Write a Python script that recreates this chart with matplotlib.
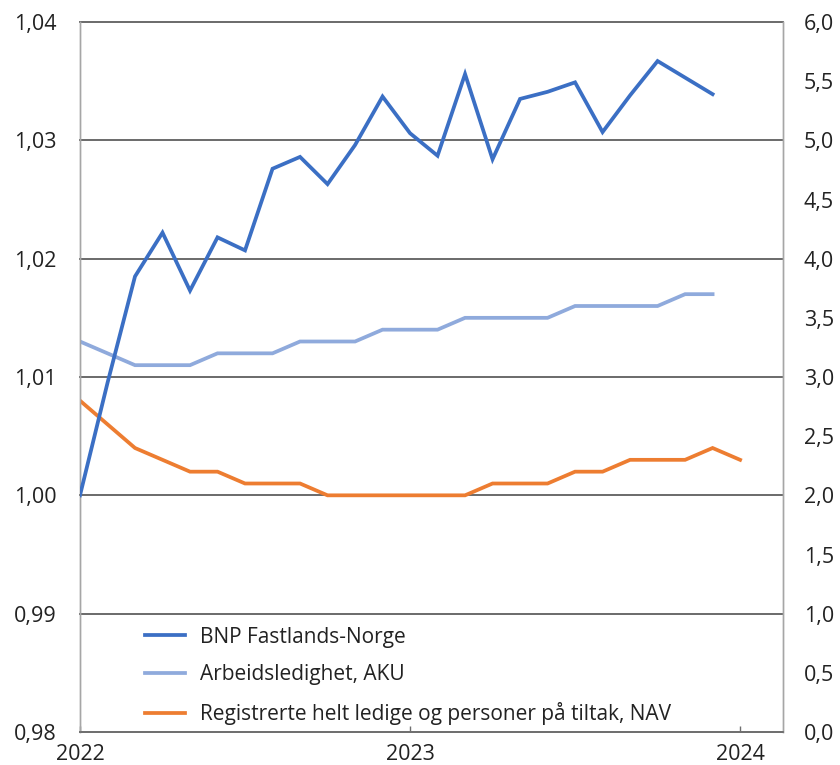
import matplotlib
matplotlib.use("Agg")
import matplotlib.pyplot as plt
import numpy as np

plt.rcParams['font.family'] = ['Open Sans', 'DejaVu Sans']

# Data (monthly, Jan 2022 = 0)
bnp = [1.000, 1.0095, 1.0185, 1.0222, 1.0173, 1.0218, 1.0207, 1.0276, 1.0286, 1.0263,
       1.0296, 1.0337, 1.0306, 1.0287, 1.0356, 1.0284, 1.0335, 1.0341, 1.0349, 1.0307,
       1.0338, 1.0367, 1.0353, 1.0339]
aku = [3.3, 3.2, 3.1, 3.1, 3.1, 3.2, 3.2, 3.2, 3.3, 3.3, 3.3, 3.4, 3.4, 3.4, 3.5, 3.5,
       3.5, 3.5, 3.6, 3.6, 3.6, 3.6, 3.7, 3.7]
nav = [2.8, 2.6, 2.4, 2.3, 2.2, 2.2, 2.1, 2.1, 2.1, 2.0, 2.0, 2.0, 2.0, 2.0, 2.0, 2.1,
       2.1, 2.1, 2.2, 2.2, 2.3, 2.3, 2.3, 2.4, 2.3]
labels = ["BNP Fastlands-Norge", "Arbeidsledighet, AKU",
          "Registrerte helt ledige og personer på tiltak, NAV"]
xtick_labels = ["2022", "2023", "2024"]
left_ticks = [0.98, 0.99, 1.00, 1.01, 1.02, 1.03, 1.04]
right_ticks = [0.0, 0.5, 1.0, 1.5, 2.0, 2.5, 3.0, 3.5, 4.0, 4.5, 5.0, 5.5, 6.0]

c_bnp = "#3B6FC4"
c_aku = "#8FAADC"
c_nav = "#ED7D31"
FS = 15.5

fig = plt.figure(figsize=(8.4, 7.65), dpi=100)
ax = fig.add_axes([80/840, 33/765, 703/840, 710/765])
ax2 = ax.twinx()

x_bnp = np.arange(len(bnp))
x_aku = np.arange(len(aku))
x_nav = np.arange(len(nav))

ax.set_zorder(ax2.get_zorder() + 1)
ax.patch.set_visible(False)

l1, = ax.plot(x_bnp, bnp, color=c_bnp, lw=2.7, solid_joinstyle='miter', zorder=5)
l2, = ax2.plot(x_aku, aku, color=c_aku, lw=2.7, solid_joinstyle='miter', zorder=4)
l3, = ax2.plot(x_nav, nav, color=c_nav, lw=2.7, solid_joinstyle='miter', zorder=4)

ax.set_xlim(0, 25.56)
ax.set_ylim(0.98, 1.04)
ax2.set_ylim(0.0, 6.0)

ax.set_yticks(left_ticks)
ax.set_yticklabels([f"{v:.2f}".replace('.', ',') for v in left_ticks])
ax2.set_yticks(right_ticks)
ax2.set_yticklabels([f"{v:.1f}".replace('.', ',') for v in right_ticks])

ax.set_xticks([0, 12, 24])
ax.set_xticklabels(xtick_labels)

for v in left_ticks[1:]:
    ax2.axhline((v - 0.98) / 0.06 * 6.0, color="#6a6a6a", lw=1.4, zorder=1, clip_on=False)

ax.tick_params(axis='y', length=0, pad=17, labelsize=FS, labelcolor="#222222")
ax2.tick_params(axis='y', length=0, pad=15, labelsize=FS, labelcolor="#222222")
ax.tick_params(axis='x', direction='in', length=4, width=1, color="#6f6f6f",
               pad=9, labelsize=FS, labelcolor="#222222")

for a in (ax, ax2):
    a.spines['left'].set_color("#a6a6a6")
    a.spines['right'].set_color("#a6a6a6")
    a.spines['top'].set_visible(False)
    a.spines['bottom'].set_color("#6f6f6f")
    a.spines['left'].set_linewidth(1.0)
    a.spines['right'].set_linewidth(1.0)
    a.spines['bottom'].set_linewidth(1.3)

leg = ax.legend([l1, l2, l3], labels, loc='lower left',
                bbox_to_anchor=(0.087, 0.004), frameon=False, fontsize=15,
                handlelength=1.9, handletextpad=0.72, labelspacing=0.8,
                borderpad=0.2, borderaxespad=0)
for t in leg.get_texts():
    t.set_color("#222222")

fig.savefig("out.png", dpi=100)
